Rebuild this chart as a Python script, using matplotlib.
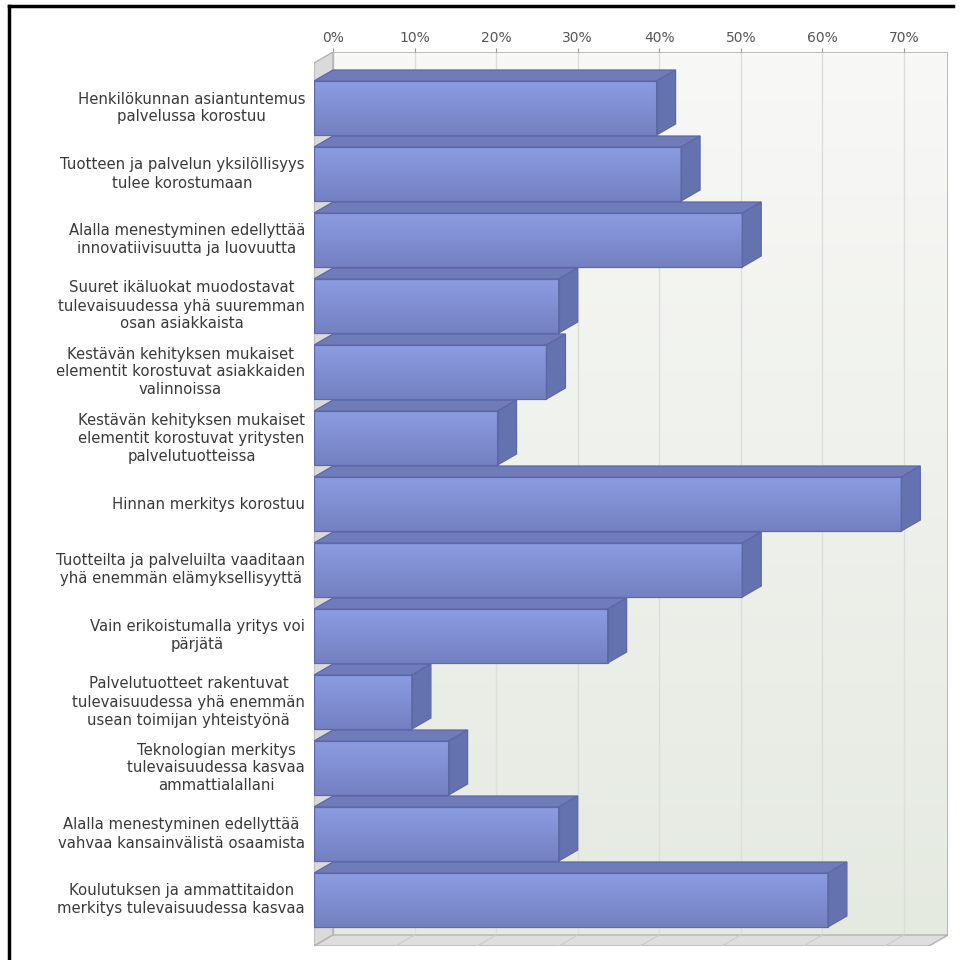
import numpy as np
import matplotlib.pyplot as plt
import matplotlib.transforms as mtransforms
from matplotlib.colors import LinearSegmentedColormap
from matplotlib.lines import Line2D
from matplotlib.patches import Polygon, Rectangle

labels = [
    "Henkilökunnan asiantuntemus\npalvelussa korostuu",
    "Tuotteen ja palvelun yksilöllisyys\ntulee korostumaan",
    "Alalla menestyminen edellyttää\ninnovatiivisuutta ja luovuutta",
    "Suuret ikäluokat muodostavat\ntulevaisuudessa yhä suuremman\nosan asiakkaista",
    "Kestävän kehityksen mukaiset\nelementit korostuvat asiakkaiden\nvalinnoissa",
    "Kestävän kehityksen mukaiset\nelementit korostuvat yritysten\npalvelutuotteissa",
    "Hinnan merkitys korostuu",
    "Tuotteilta ja palveluilta vaaditaan\nyhä enemmän elämyksellisyyttä",
    "Vain erikoistumalla yritys voi\npärjätä",
    "Palvelutuotteet rakentuvat\ntulevaisuudessa yhä enemmän\nusean toimijan yhteistyönä",
    "Teknologian merkitys\ntulevaisuudessa kasvaa\nammattialallani",
    "Alalla menestyminen edellyttää\nvahvaa kansainvälistä osaamista",
    "Koulutuksen ja ammattitaidon\nmerkitys tulevaisuudessa kasvaa",
]
values = [42, 45, 52.5, 30, 28.5, 22.5, 72, 52.5, 36, 12, 16.5, 30, 63]
ticks = [0, 10, 20, 30, 40, 50, 60, 70]
tick_labels = [f"{t}%" for t in ticks]

W = H = 960
fig = plt.figure(figsize=(9.6, 9.6), dpi=100)
fig.patch.set_facecolor("white")

# plot box in pixels: front-left edge, right wall, wall top, floor front edge
left_px, right_px, top_px, bottom_px = 314, 948, 52, 946
ax = fig.add_axes([left_px / W, 1 - bottom_px / H,
                   (right_px - left_px) / W, (bottom_px - top_px) / H])

px_per_pct = 571 / 70          # 0% at x=333, 70% at x=904
DX = 19 / px_per_pct           # depth offset in % units
xmax = (right_px - 333) / px_per_pct
pitch = 66.0                   # pixels between bars
first_px = 97                  # back centre of first bar
DY = 11 / pitch
ytop = (top_px - first_px) / pitch
ybot = (bottom_px - first_px) / pitch
yfloor = ybot - DY

# back wall with soft gradient
wall_cmap = LinearSegmentedColormap.from_list("wall", ["#f8f8f6", "#e5eae1"])
grad = np.linspace(0, 1, 256).reshape(-1, 1)
ax.imshow(grad, extent=(0, xmax, yfloor, ytop), cmap=wall_cmap,
          aspect="auto", zorder=0, interpolation="bilinear")

for t in ticks[1:]:
    ax.plot([t, t], [ytop, yfloor], color="#dcdedb", lw=1, zorder=1)
    ax.plot([t, t - DX], [yfloor, ybot], color="#cccccc", lw=0.8, zorder=2)

# left wall and floor
ax.add_patch(Polygon([(0, ytop), (-DX, ytop + DY), (-DX, ybot), (0, yfloor)],
                     closed=True, fc="#dadada", ec="#b3b3b3", lw=1, zorder=1))
ax.add_patch(Polygon([(0, yfloor), (xmax, yfloor), (xmax - DX, ybot), (-DX, ybot)],
                     closed=True, fc="#dedede", ec="#b3b3b3", lw=1, zorder=1))
ax.plot([0, xmax, xmax], [ytop, ytop, yfloor], color="#b0b0b0", lw=1.2, zorder=2)
ax.plot([0, 0], [ytop, yfloor], color="#b8b8b8", lw=1, zorder=2)

# 3D bars
front_cmap = LinearSegmentedColormap.from_list("front", ["#8c9ce2", "#7480c1"])
edge = "#5d68a6"
h = 27 / pitch
for i, v in enumerate(values):
    yt, yb = i - h, i + h
    ax.imshow(grad, extent=(-DX, v - DX, yb + DY, yt + DY), cmap=front_cmap,
              aspect="auto", zorder=4, interpolation="bilinear")
    ax.add_patch(Rectangle((-DX, yt + DY), v, 2 * h, fill=False,
                           ec=edge, lw=0.9, zorder=5))
    ax.add_patch(Polygon([(-DX, yt + DY), (v - DX, yt + DY), (v, yt), (0, yt)],
                         closed=True, fc="#6f7cb9", ec=edge, lw=0.9, zorder=4))
    ax.add_patch(Polygon([(v - DX, yt + DY), (v, yt), (v, yb), (v - DX, yb + DY)],
                         closed=True, fc="#6472b0", ec=edge, lw=0.9, zorder=4))

ax.set_xlim(-DX, xmax)
ax.set_ylim(ybot, ytop)

ax.xaxis.tick_top()
ax.set_xticks(ticks, tick_labels)
ax.tick_params(axis="x", length=3, color="#999999", labelcolor="#555555",
               labelsize=10, pad=2)
ax.set_yticks([])
for s in ax.spines.values():
    s.set_visible(False)

# category labels to the left of the bars
trans = mtransforms.offset_copy(ax.transData, fig=fig, x=-9, y=0, units="dots")
for i, lab in enumerate(labels):
    ax.text(-DX, i + DY, lab, transform=trans, ha="right", va="center",
            multialignment="center", fontsize=10.7, color="#3a3a3a",
            linespacing=1.25, clip_on=False)

# frame lines
fig.add_artist(Line2D([9 / W, 9 / W], [0, 1 - 6 / H], color="black", lw=2.5,
                      transform=fig.transFigure))
fig.add_artist(Line2D([9 / W, 953 / W], [1 - 6 / H, 1 - 6 / H], color="black",
                      lw=2.5, transform=fig.transFigure))

fig.savefig("out.png", dpi=100)
